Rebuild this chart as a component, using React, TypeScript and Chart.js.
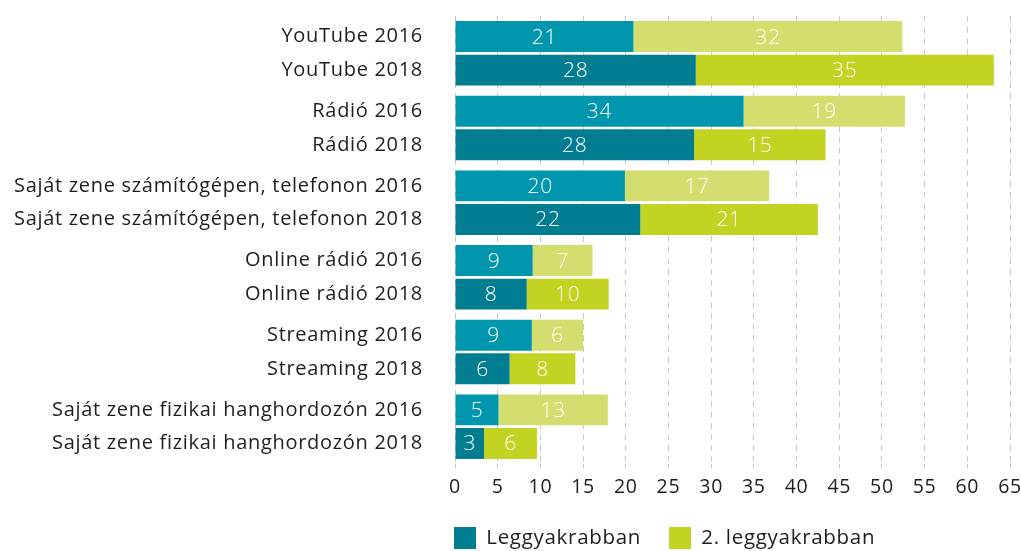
import React, { useEffect, useRef } from "react";
import { Chart, registerables } from "chart.js";

Chart.register(...registerables);

const categories = [
  "YouTube",
  "Rádió",
  "Saját zene számítógépen, telefonon",
  "Online rádió",
  "Streaming",
  "Saját zene fizikai hanghordozón",
];
const years = ["2016", "2018"];
const seriesNames = ["Leggyakrabban", "2. leggyakrabban"];

const most2016 = [20.9, 33.8, 19.9, 9.1, 9.0, 5.1];
const second2016 = [31.5, 18.9, 16.9, 7.0, 6.0, 12.8];
const most2018 = [28.2, 28.0, 21.7, 8.4, 6.4, 3.4];
const second2018 = [34.9, 15.4, 20.8, 9.6, 7.7, 6.2];

const xMin = 0;
const xMax = 65;
const xStep = 5;

const FONT = "'Open Sans'";
const TEXT = "#1e1e1e";
const SPACING = "0.7px";

const letterSpacing = {
  id: "letterSpacing",
  beforeUpdate(chart: any) {
    chart.ctx.letterSpacing = SPACING;
  },
  beforeDraw(chart: any) {
    chart.ctx.letterSpacing = SPACING;
  },
};

const valueLabels = {
  id: "valueLabels",
  afterDatasetsDraw(chart: any) {
    const ctx = chart.ctx;
    ctx.save();
    ctx.font = `300 21px ${FONT}`;
    ctx.fillStyle = "#ffffff";
    ctx.textAlign = "center";
    ctx.textBaseline = "middle";
    chart.data.datasets.forEach((ds: any, i: number) => {
      const meta = chart.getDatasetMeta(i);
      meta.data.forEach((el: any, j: number) => {
        const p = el.getCenterPoint();
        ctx.fillText(String(Math.round(ds.data[j])), p.x, p.y + 1);
      });
    });
    ctx.restore();
  },
};

const legendShift = {
  id: "legendShift",
  afterLayout(chart: any) {
    const lg = chart.legend;
    if (lg) {
      const pad = lg.options.labels.padding;
      lg.left = chart.chartArea.left - pad - 1;
    }
  },
};

export default function App() {
  const ref = useRef<HTMLCanvasElement>(null);

  useEffect(() => {
    document.body.style.margin = "0";
    const canvas = ref.current;
    if (!canvas) return;
    const labels = categories.map((c) => years.map((y) => `${c} ${y}`));
    const chart = new Chart(canvas, {
      type: "bar",
      data: {
        labels,
        datasets: [
          { label: seriesNames[0] + " " + years[0], data: most2016, backgroundColor: "#0097ae", stack: "s2016" },
          { label: seriesNames[1] + " " + years[0], data: second2016, backgroundColor: "#d4de6f", stack: "s2016" },
          { label: seriesNames[0], data: most2018, backgroundColor: "#007d91", stack: "s2018" },
          { label: seriesNames[1], data: second2018, backgroundColor: "#c3d322", stack: "s2018" },
        ],
      },
      options: {
        indexAxis: "y",
        responsive: false,
        animation: false,
        maintainAspectRatio: false,
        datasets: {
          bar: { categoryPercentage: 0.9, barPercentage: 0.92, borderWidth: 0 },
        },
        layout: { padding: { top: 16, left: 0, right: 0, bottom: 0 } },
        scales: {
          x: {
            stacked: true,
            min: xMin,
            max: xMax,
            ticks: {
              stepSize: xStep,
              color: TEXT,
              padding: 8,
              font: { family: FONT, size: 19.5 },
            },
            grid: { color: "#c8c8c8", lineWidth: 1, tickLength: 4, drawTicks: true },
            border: { display: false, dash: [6, 5] },
            afterFit: (scale: any) => {
              scale.height = 35;
              scale.paddingLeft = 0;
              scale.paddingRight = 11;
            },
          },
          y: {
            stacked: true,
            grid: { display: false, drawTicks: false, tickLength: 0 },
            border: { display: false },
            ticks: {
              autoSkip: false,
              color: TEXT,
              padding: 32,
              font: { family: FONT, size: 20, lineHeight: "33.6px" },
            },
            afterFit: (scale: any) => {
              scale.width = 455;
              scale.paddingTop = 0;
              scale.paddingBottom = 0;
            },
          },
        },
        plugins: {
          legend: {
            position: "bottom",
            align: "start",
            fullSize: false,
            maxHeight: 52,
            labels: {
              boxWidth: 22,
              boxHeight: 22,
              padding: 28,
              color: TEXT,
              font: { family: FONT, size: 20.5 },
              filter: (item: any) => item.datasetIndex >= 2,
            },
          },
          tooltip: { enabled: false },
        },
      },
      plugins: [letterSpacing, valueLabels, legendShift],
    } as any);
    return () => chart.destroy();
  }, []);

  return (
    <div style={{ width: 1021, height: 551 }}>
      <canvas ref={ref} width={1021} height={551} style={{ display: "block" }} />
    </div>
  );
}
